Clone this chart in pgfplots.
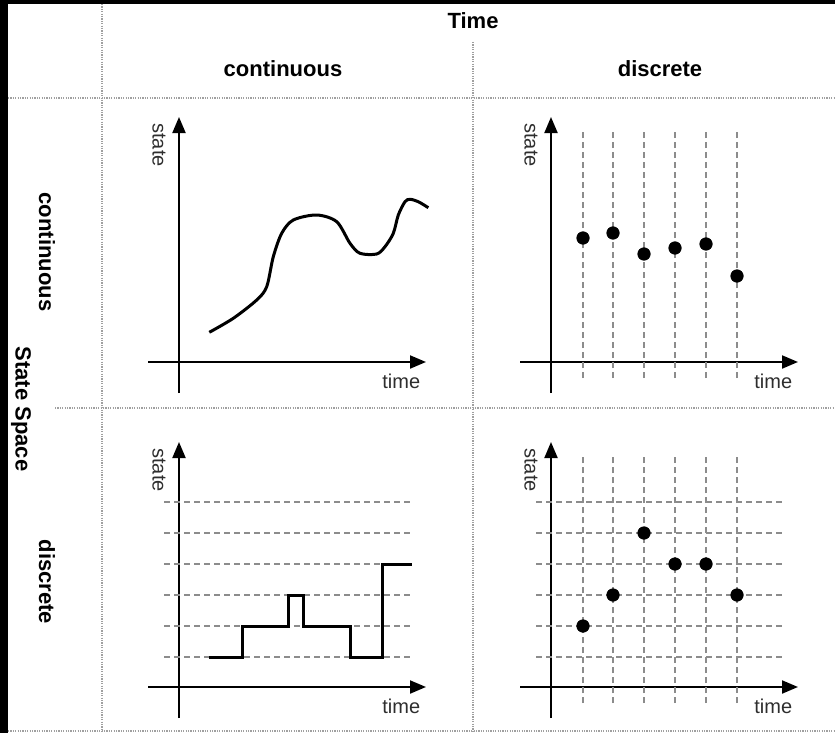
\documentclass[border=0pt]{standalone}
\usepackage{pgfplots}
\pgfplotsset{compat=1.18}
\usetikzlibrary{arrows.meta}
\usepackage{fontspec}
\setmainfont{Liberation Sans}

\definecolor{gridgray}{HTML}{8C8C8C}
\definecolor{divgray}{HTML}{A0A0A0}
\definecolor{labgray}{HTML}{2E2E2E}

\pgfplotsset{
  panel/.style={
    x=0.5pt, y=0.5pt, anchor=origin,
    axis lines=middle,
    xmin=-31, xmax=247, ymin=-31, ymax=245,
    xtick=\empty, ytick=\empty, clip=false,
    axis line style={line width=1pt, -{Triangle[length=8pt,width=6.5pt]}},
  },
  grid line/.style={gridgray, line width=0.6pt, dash pattern=on 3pt off 2pt,
    unbounded coords=jump, forget plot},
}

% vertical time steps (x), from below to above the axis
\pgfplotstableread{
x y
32 -16
32 232
nan nan
62 -16
62 232
nan nan
93 -16
93 232
nan nan
124 -16
124 232
nan nan
155 -16
155 232
nan nan
186 -16
186 232
}\timegrid

% horizontal state levels
\pgfplotstableread{
x y
-15 30
233 30
nan nan
-15 61
233 61
nan nan
-15 92
233 92
nan nan
-15 123
233 123
nan nan
-15 154
233 154
nan nan
-15 185
233 185
}\stategrid

\newcommand\hdr{\fontsize{11}{13}\selectfont\bfseries}
\newcommand\lab{\fontsize{10}{12}\selectfont\color{labgray}}

\begin{document}
\begin{tikzpicture}[x=0.5pt, y=-0.5pt]
  \useasboundingbox (0,0) rectangle (835,733);
  \fill[white] (0,0) rectangle (835,733);
  \fill[black] (0,0) rectangle (835,4);
  \fill[black] (0,0) rectangle (8,733);

  % table dividers
  \begin{scope}[divgray, line width=0.8pt, dash pattern=on 0.6pt off 0.6pt]
    \draw (102,4) -- (102,733);
    \draw (473,42) -- (473,733);
    \draw (8,98) -- (835,98);
    \draw (55,408) -- (835,408);
    \draw (8,731) -- (835,731);
  \end{scope}

  % headers
  \node[anchor=base] at (473,29) {\hdr Time};
  \node[anchor=base] at (283,77) {\hdr continuous};
  \node[anchor=base] at (660,77) {\hdr discrete};
  \node[rotate=-90] at (47,252) {\hdr continuous};
  \node[rotate=-90] at (21,409) {\hdr State Space};
  \node[rotate=-90] at (47,582) {\hdr discrete};

  \coordinate (pTL) at (179,362);
  \coordinate (pTR) at (551,362);
  \coordinate (pBL) at (179,687);
  \coordinate (pBR) at (551,687);

  % continuous time, continuous state
  \begin{axis}[panel, at={(pTL)}]
    \addplot[black, line width=1.5pt, smooth, tension=0.5] coordinates {
      (30.3,29.7) (54.3,43.7) (77.7,62) (87.7,75.3) (94.3,105.3)
      (102.7,128.7) (114.3,142) (137.7,147) (157.7,140.3) (171,118.7)
      (181,108.7) (197.7,108) (206,115.3) (214.3,128.7) (219.3,147)
      (226,160.3) (231,162.7) (239.3,160.3) (249.3,154.3)
    };
  \end{axis}

  % discrete time, continuous state
  \begin{axis}[panel, at={(pTR)}]
    \addplot[grid line] table {\timegrid};
    \addplot[only marks, mark=*, mark size=3.1pt, black] coordinates {
      (32,124) (62,129) (93,108) (124,114) (155,118) (186,86)
    };
  \end{axis}

  % continuous time, discrete state
  \begin{axis}[panel, at={(pBL)}]
    \addplot[grid line] table {\stategrid};
    \addplot[black, line width=1.5pt] coordinates {
      (30,30) (63,30) (63,61) (109,61) (109,92) (124,92) (124,61)
      (171,61) (171,30) (203,30) (203,123) (233,123)
    };
  \end{axis}

  % discrete time, discrete state
  \begin{axis}[panel, at={(pBR)}]
    \addplot[grid line] table {\timegrid};
    \addplot[grid line] table {\stategrid};
    \addplot[only marks, mark=*, mark size=3.1pt, black] coordinates {
      (32,61) (62,92) (93,154) (124,123) (155,123) (186,92)
    };
  \end{axis}

  % axis captions
  \foreach \dx/\dy in {0/0, 372/0, 0/325, 372/325} {
    \node[anchor=base west, inner sep=0pt] at (382+\dx,388+\dy) {\lab time};
    \node[rotate=-90] at (159+\dx,145+\dy) {\lab state};
  }
\end{tikzpicture}
\end{document}
